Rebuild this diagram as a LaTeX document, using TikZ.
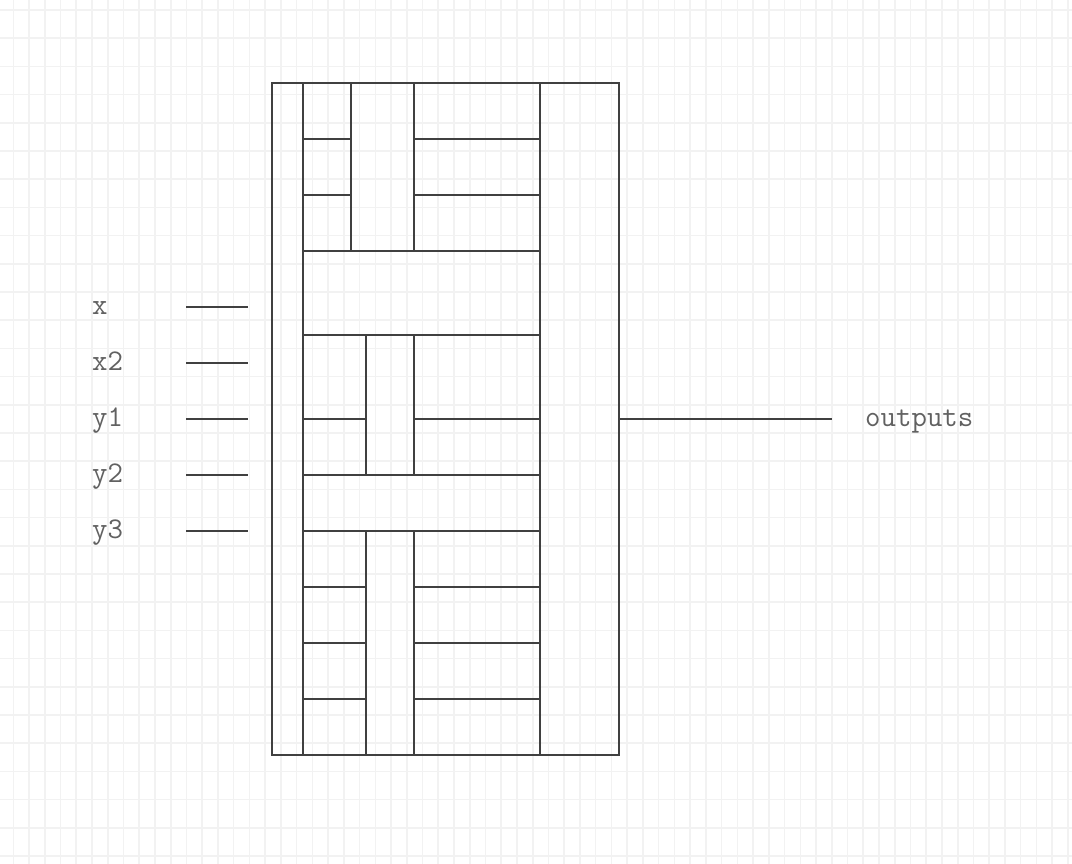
\documentclass[tikz,border=0pt]{standalone}
\usepackage{tikz}
\usetikzlibrary{positioning}

\tikzset{
  wire/.style={line width=1.6pt, draw=black!75},
  gridline/.style={line width=1.6pt, draw=black!5},
  lbl/.style={font=\ttfamily\fontsize{30}{36}\selectfont, text=black!62, inner sep=0pt, anchor=base west}
}

\begin{document}
\begin{tikzpicture}[x=1pt, y=-1pt]
  \useasboundingbox (0,0) rectangle (1072,864);
  \fill[white] (0,0) rectangle (1072,864);
  % background grid
  \foreach \i in {0,...,67} \draw[gridline] ({13.3+15.74*\i},0) -- ({13.3+15.74*\i},864);
  \foreach \j in {0,...,30} \draw[gridline] (0,{10+28.2*\j}) -- (1072,{10+28.2*\j});

  % the block
  \node[name=block, wire, draw, rectangle, minimum width=347pt, minimum height=672pt] at (445.5,419) {};
  \draw[wire] (303,83) -- (303,755);
  \draw[wire] (540,83) -- (540,755);

  % top part
  \draw[wire] (351,83) -- (351,251);
  \draw[wire] (414,83) -- (414,251);
  \draw[wire] (303,139) -- (351,139);
  \draw[wire] (414,139) -- (540,139);
  \draw[wire] (303,195) -- (351,195);
  \draw[wire] (414,195) -- (540,195);
  \draw[wire] (303,251) -- (540,251);
  \draw[wire] (303,335) -- (540,335);

  % middle part
  \draw[wire] (366,335) -- (366,475);
  \draw[wire] (414,335) -- (414,475);
  \draw[wire] (303,419) -- (366,419);
  \draw[wire] (414,419) -- (540,419);
  \draw[wire] (303,475) -- (540,475);
  \draw[wire] (303,531) -- (540,531);

  % bottom part
  \draw[wire] (366,531) -- (366,755);
  \draw[wire] (414,531) -- (414,755);
  \draw[wire] (303,587) -- (366,587);
  \draw[wire] (414,587) -- (540,587);
  \draw[wire] (303,643) -- (366,643);
  \draw[wire] (414,643) -- (540,643);
  \draw[wire] (303,699) -- (366,699);
  \draw[wire] (414,699) -- (540,699);

  % inputs
  \node[name=inx, lbl] at (92,314) {x};
  \node[name=inxtwo, lbl] at (92,370) {x2};
  \node[name=inyone, lbl] at (92,426) {y1};
  \node[name=inytwo, lbl] at (92,482) {y2};
  \node[name=inythree, lbl] at (92,538) {y3};
  \coordinate (inx-a) at (186,307);     \coordinate (inx-b) at (248,307);
  \coordinate (inxtwo-a) at (186,363);  \coordinate (inxtwo-b) at (248,363);
  \coordinate (inyone-a) at (186,419);  \coordinate (inyone-b) at (248,419);
  \coordinate (inytwo-a) at (186,475);  \coordinate (inytwo-b) at (248,475);
  \coordinate (inythree-a) at (186,531); \coordinate (inythree-b) at (248,531);
  \draw[wire] (inx-a) -- (inx-b);
  \draw[wire] (inxtwo-a) -- (inxtwo-b);
  \draw[wire] (inyone-a) -- (inyone-b);
  \draw[wire] (inytwo-a) -- (inytwo-b);
  \draw[wire] (inythree-a) -- (inythree-b);

  % output
  \coordinate (outend) at (832,419);
  \node[name=outlbl, lbl] at (865,426) {outputs};
  \draw[wire] (block.east) -- (outend);
\end{tikzpicture}
\end{document}
